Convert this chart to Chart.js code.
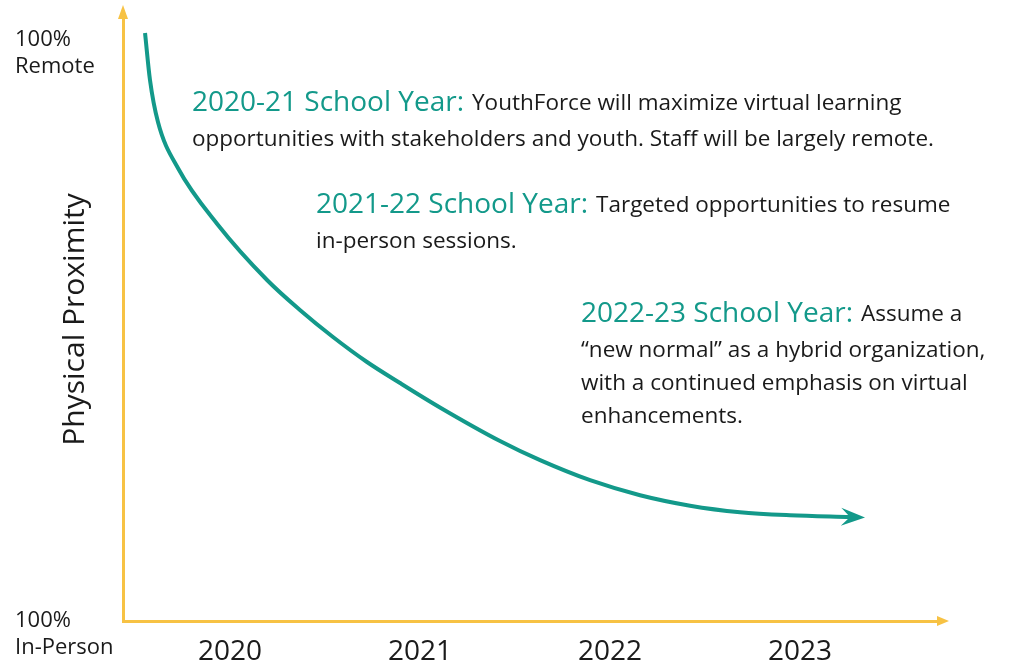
<!DOCTYPE html>
<html>
<head>
<meta charset="utf-8">
<script src="https://cdn.jsdelivr.net/npm/chart.js@4"></script>
<style>
  html, body { margin: 0; padding: 0; background: #fff; }
  canvas { display: block; }
</style>
</head>
<body>
<canvas id="proximityChart" width="1015" height="665"></canvas>
<script>
// data
var yearTicks = [2020, 2021, 2022, 2023];
var curveYears = [2019.553, 2019.579, 2019.621, 2019.726, 2019.937, 2020.195, 2020.368, 2020.542, 2020.721, 2020.895,
  2021.105, 2021.421, 2021.632, 2021.895, 2022.158, 2022.421, 2022.684, 2022.947, 2023.263];
var curveRemote = [101.2, 93.12, 85.89, 77.97, 68.16, 58.69, 53.53, 48.88, 44.58, 40.96,
  36.76, 30.98, 27.68, 24.23, 21.65, 19.85, 18.73, 18.21, 17.9];
var yTickValues = [0, 100];
var yTickLabels = { 0: ['', '100%', 'In-Person'], 100: ['', '100%', 'Remote'] };

var notes = [
  { head: '2020-21 School Year:', lines: ['YouthForce will maximize virtual learning', 'opportunities with stakeholders and youth. Staff will be largely remote.'] },
  { head: '2021-22 School Year:', lines: ['Targeted opportunities to resume', 'in-person sessions.'] },
  { head: '2022-23 School Year:', lines: ['Assume a', '\u201cnew normal\u201d as a hybrid organization,', 'with a continued emphasis on virtual', 'enhancements.'] }
];
var notePos = [{ x: 192, y: 103 }, { x: 316, y: 205 }, { x: 581, y: 314 }];

var TEAL = '#13998a';
var YELLOW = '#f7c244';
var FONT = '"Open Sans"';

// axis arrowheads + curve arrowhead
var arrowPlugin = {
  id: 'arrows',
  afterDatasetsDraw: function (chart) {
    var ctx = chart.ctx;
    var a = chart.chartArea;
    ctx.save();
    ctx.fillStyle = YELLOW;
    ctx.beginPath();
    ctx.moveTo(a.right + 11, a.bottom);
    ctx.lineTo(a.right - 1, a.bottom - 5);
    ctx.lineTo(a.right - 1, a.bottom + 5);
    ctx.closePath();
    ctx.fill();
    ctx.beginPath();
    ctx.moveTo(a.left, a.top - 13);
    ctx.lineTo(a.left - 5, a.top + 1);
    ctx.lineTo(a.left + 5, a.top + 1);
    ctx.closePath();
    ctx.fill();

    var pts = chart.getDatasetMeta(0).data;
    var end = pts[pts.length - 1];
    var dx = end.x - end.cp1x, dy = end.y - end.cp1y;
    var len = Math.sqrt(dx * dx + dy * dy) || 1;
    dx /= len; dy /= len;
    var px = -dy, py = dx;
    ctx.fillStyle = TEAL;
    ctx.beginPath();
    ctx.moveTo(end.x + dx * 15, end.y + dy * 15);
    ctx.lineTo(end.x - dx * 9 + px * 9, end.y - dy * 9 + py * 9);
    ctx.lineTo(end.x, end.y);
    ctx.lineTo(end.x - dx * 9 - px * 9, end.y - dy * 9 - py * 9);
    ctx.closePath();
    ctx.fill();
    ctx.restore();
  }
};

// school year notes
var notesPlugin = {
  id: 'notes',
  afterDraw: function (chart) {
    var ctx = chart.ctx;
    ctx.save();
    ctx.textBaseline = 'middle';
    ctx.textAlign = 'left';
    notes.forEach(function (n, i) {
      var p = notePos[i];
      ctx.font = '28px ' + FONT;
      ctx.fillStyle = TEAL;
      ctx.fillText(n.head, p.x, p.y);
      var w = ctx.measureText(n.head).width;
      ctx.font = '22.5px ' + FONT;
      ctx.fillStyle = '#1a1a1a';
      ctx.fillText(n.lines[0], p.x + w + 8, p.y + 1);
      for (var k = 1; k < n.lines.length; k++) {
        ctx.fillText(n.lines[k], p.x, p.y + 37 + 33 * (k - 1));
      }
    });
    ctx.restore();
  }
};

var ctx = document.getElementById('proximityChart').getContext('2d');
var proximityChart = new Chart(ctx, {
  type: 'line',
  data: {
    datasets: [{
      data: curveYears.map(function (x, i) { return { x: x, y: curveRemote[i] }; }),
      borderColor: TEAL,
      borderWidth: 4,
      pointRadius: 0,
      cubicInterpolationMode: 'monotone',
      fill: false,
      clip: false
    }]
  },
  options: {
    responsive: false,
    animation: false,
    devicePixelRatio: 1,
    layout: { padding: { left: 15, right: 77, top: 18, bottom: 0 } },
    plugins: { legend: { display: false }, tooltip: { enabled: false } },
    scales: {
      x: {
        type: 'linear',
        min: 2019.437,
        max: 2023.726,
        afterBuildTicks: function (s) { s.ticks = yearTicks.map(function (v) { return { value: v }; }); },
        afterFit: function (s) { s.height = 44; s.paddingLeft = 0; s.paddingRight = 0; },
        grid: { display: false, drawTicks: false },
        border: { display: true, color: YELLOW, width: 3 },
        ticks: {
          padding: 14,
          color: '#1a1a1a',
          font: { family: FONT, size: 28 },
          callback: function (v) { return String(v); }
        }
      },
      y: {
        min: 0,
        max: 103.79,
        afterBuildTicks: function (s) { s.ticks = yTickValues.map(function (v) { return { value: v }; }); },
        afterFit: function (s) { s.width = 108; s.paddingTop = 0; s.paddingBottom = 0; },
        grid: { display: false, drawTicks: false },
        border: { display: true, color: YELLOW, width: 3 },
        title: {
          display: true,
          text: 'Physical Proximity',
          color: '#1a1a1a',
          font: { family: FONT, size: 30 },
          padding: { top: 42, bottom: 0 }
        },
        ticks: {
          crossAlign: 'far',
          color: '#1a1a1a',
          font: { family: FONT, size: 22, lineHeight: 1.23 },
          callback: function (v) { return yTickLabels[v]; }
        }
      }
    }
  },
  plugins: [arrowPlugin, notesPlugin]
});
</script>
</body>
</html>
